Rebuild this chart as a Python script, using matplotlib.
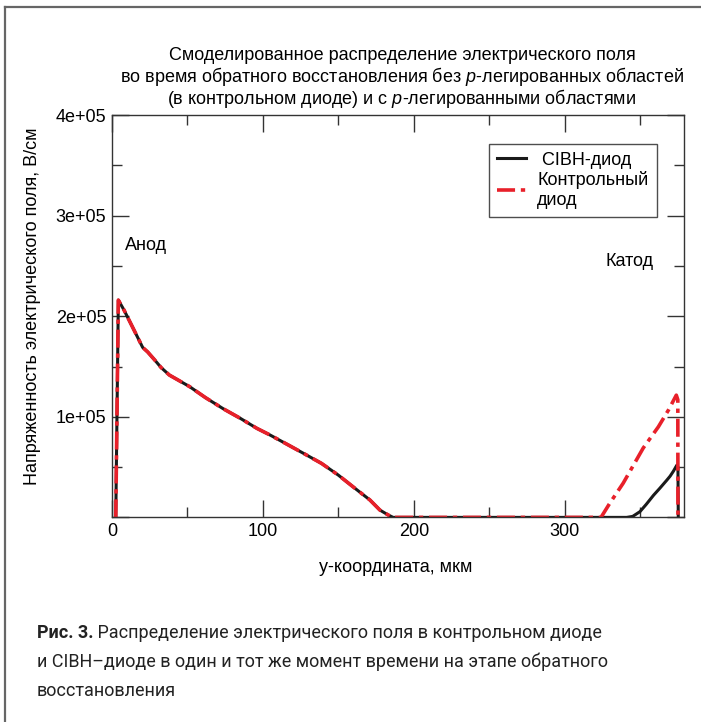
import matplotlib
matplotlib.use('Agg')
import numpy as np
import matplotlib.pyplot as plt
from matplotlib import font_manager
from matplotlib.lines import Line2D
from matplotlib.ticker import MultipleLocator, FuncFormatter

W, H = 701, 722

plt.rcParams['font.family'] = ['Liberation Sans', 'DejaVu Sans']
plt.rcParams['mathtext.fontset'] = 'custom'
plt.rcParams['mathtext.rm'] = 'Liberation Sans'
plt.rcParams['mathtext.it'] = 'Liberation Sans:italic'

# data, field in units of 1e5 V/cm
x_front = [2.5, 4.2, 8, 14, 20.3, 23.6, 28, 32.5, 38, 45, 51.4, 62, 73.7, 85, 96,
           104.6, 116.8, 128.9, 138.8, 149.9, 161, 170.9, 177.5, 183, 186.3]
y_front = [0, 2.16, 2.06, 1.88, 1.69, 1.645, 1.57, 1.49, 1.415, 1.355, 1.30, 1.19, 1.08, 0.985, 0.885,
           0.82, 0.72, 0.62, 0.537, 0.421, 0.289, 0.173, 0.073, 0.024, 0.0]

x_cibh_tail = [341, 345, 349.8, 354, 358.8, 363, 367.6, 369.8, 372, 374.3, 375, 375.2]
y_cibh_tail = [0, 0.01, 0.057, 0.13, 0.22, 0.29, 0.37, 0.41, 0.46, 0.52, 0.50, 0]

x_ctrl_tail = [324, 329.8, 338.7, 352, 362, 368.7, 373.9, 374.9, 375.0]
y_ctrl_tail = [0, 0.14, 0.34, 0.69, 0.90, 1.067, 1.215, 1.17, 0]

x_cibh = np.array(x_front + x_cibh_tail)
y_cibh = np.array(y_front + y_cibh_tail) * 1e5
x_ctrl = np.array(x_front + x_ctrl_tail)
y_ctrl = np.array(y_front + y_ctrl_tail) * 1e5

legend_labels = [' СIBH-диод', 'Контрольный\nдиод']
title_lines = ['Смоделированное распределение электрического поля',
               'во время обратного восстановления без $\\it{p}$-легированных областей',
               '(в контрольном диоде) и с $\\it{p}$-легированными областями']
caption_bold = 'Рис. 3.'
caption_lines = [' Распределение электрического поля в контрольном диоде',
                 'и СIBH\u2013диоде в один и тот же момент времени на этапе обратного',
                 'восстановления']

fig = plt.figure(figsize=(W / 100, H / 100), dpi=100)

def px(x, y):
    return x / W, 1 - y / H

# outer frame (top and left edges)
fig.add_artist(Line2D([5 / W, 5 / W], [0, 1 - 7 / H], color='#666666', lw=1.6))
fig.add_artist(Line2D([5 / W, 1], [1 - 7 / H, 1 - 7 / H], color='#666666', lw=1.6))

left, right, top, bottom = 112, 684, 115, 517.4
ax = fig.add_axes([left / W, 1 - bottom / H, (right - left) / W, (bottom - top) / H])

ax.plot(x_cibh, y_cibh, color='#1a1a1a', lw=2.2, solid_joinstyle='round', label=legend_labels[0])
ax.plot(x_ctrl, y_ctrl, color='#e8202a', lw=2.6, dashes=(5, 1.6, 1.2, 1.6), label=legend_labels[1])

ax.set_xlim(0, 379)
ax.set_ylim(0, 4e5)
ax.xaxis.set_major_locator(MultipleLocator(100))
ax.xaxis.set_minor_locator(MultipleLocator(50))
ax.yaxis.set_major_locator(MultipleLocator(1e5))
ax.yaxis.set_minor_locator(MultipleLocator(0.5e5))
ax.yaxis.set_major_formatter(FuncFormatter(lambda v, p: '' if v == 0 else '%de+05' % round(v / 1e5)))
ax.tick_params(which='both', direction='in', top=True, right=True, labelsize=13, color='#333333', width=1)
ax.tick_params(which='major', length=12, pad=4)
ax.tick_params(which='minor', length=7)
for s in ax.spines.values():
    s.set_color('#333333')
    s.set_linewidth(1)

ax.text(8.6, 2.7e5, 'Анод', fontsize=13, va='center', ha='left')
ax.text(359, 2.54e5, 'Катод', fontsize=13, va='center', ha='right')

leg = ax.legend(loc='upper right', bbox_to_anchor=((656.5 - left) / (right - left), (bottom - 143.6) / (bottom - top)),
                fontsize=13, frameon=True, fancybox=False, handlelength=1.6, handletextpad=0.6,
                borderpad=0.45, labelspacing=0.15, borderaxespad=0)
leg.get_frame().set_edgecolor('#222222')
leg.get_frame().set_linewidth(1)

for i, t in enumerate(title_lines):
    fig.text(*px(402, 56 + 21 * i), t, fontsize=13, ha='center', va='center')

fig.text(*px(33, 306), 'Напряженность электрического поля, В/см', fontsize=13, rotation=90, ha='center', va='center')
fig.text(*px(396, 567), 'y-координата, мкм', fontsize=13, ha='center', va='center')

# caption in a narrow face if present
names = {f.name for f in font_manager.fontManager.ttflist}
cap_font = 'Liberation Sans Narrow' if 'Liberation Sans Narrow' in names else 'Roboto'
cap_size = 13.0
tb = fig.text(*px(37, 633), caption_bold, fontsize=cap_size, fontweight='bold', family=cap_font, va='center', color='#222222')
fig.canvas.draw()
bb = tb.get_window_extent()
fig.text(bb.x1 / W, 1 - 633 / H, caption_lines[0], fontsize=cap_size, family=cap_font, va='center', color='#222222')
for i, t in enumerate(caption_lines[1:]):
    fig.text(*px(37, 662 + 28.5 * i), t, fontsize=cap_size, family=cap_font, va='center', color='#222222')

fig.savefig('out.png', dpi=100)
